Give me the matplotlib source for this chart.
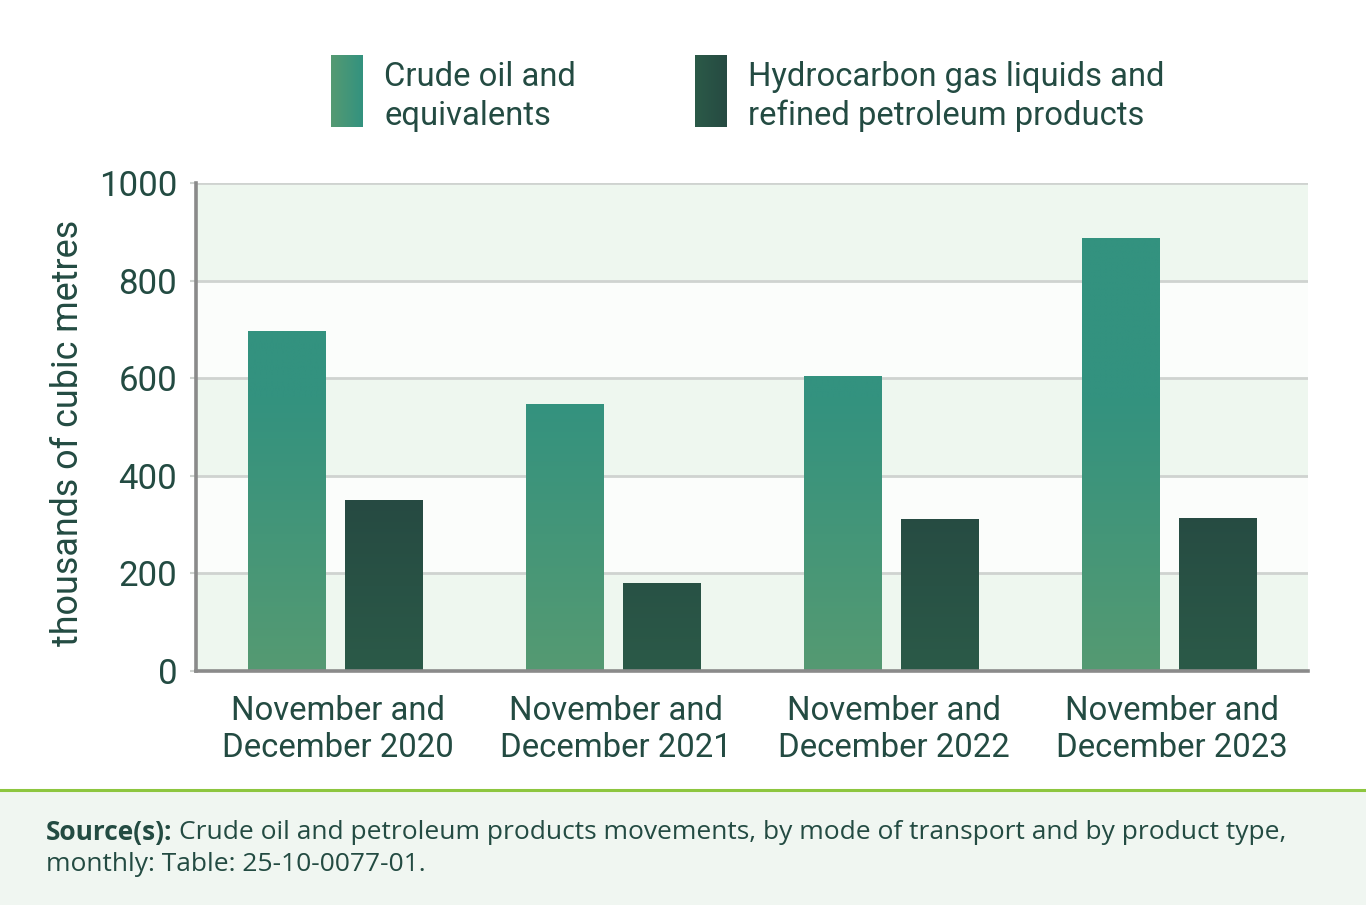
import numpy as np
import matplotlib
matplotlib.use("Agg")
import matplotlib.pyplot as plt
from matplotlib.patches import Rectangle
from matplotlib.colors import to_rgb
from matplotlib.transforms import ScaledTranslation

categories = ["November and\nDecember 2020", "November and\nDecember 2021",
              "November and\nDecember 2022", "November and\nDecember 2023"]
crude = [697, 547, 604, 887]
hgl = [350, 180, 311, 313]
series_names = ["Crude oil and\nequivalents", "Hydrocarbon gas liquids and\nrefined petroleum products"]
yticks = [0, 200, 400, 600, 800, 1000]

W, H = 1366, 905
fig = plt.figure(figsize=(W / 100, H / 100), dpi=100)
fig.patch.set_facecolor("white")

TXT = "#234b42"
FONT = "Roboto"

# footer
fig.patches.append(Rectangle((0, 0), 1, (H - 790) / H, transform=fig.transFigure,
                             facecolor="#f0f6f1", edgecolor="none", zorder=0))
fig.lines.append(plt.Line2D([0, 1], [(H - 790) / H] * 2, transform=fig.transFigure,
                            color="#8dc63f", lw=2.2, zorder=1))

ax = fig.add_axes([196 / W, (H - 671) / H, (1308 - 196) / W, (671 - 183) / H])
ax.set_facecolor("none")
ax.set_xlim(-0.5, len(categories) - 0.5)
ax.set_ylim(0, 1000)

# bands
for i in range(len(yticks) - 1):
    c = "#eef7ef" if i % 2 == 0 else "#fbfdfb"
    ax.axhspan(yticks[i], yticks[i + 1], facecolor=c, edgecolor="none", zorder=0)
for t in yticks[1:]:
    ax.axhline(t, color="#cfd3d0", lw=2, zorder=1)

x = np.arange(len(categories))
bw = 0.277
off = 0.174

def grad_bars(xpos, vals, c_bot, c_top, vmax):
    bars = ax.bar(xpos, vals, width=bw, facecolor="none", edgecolor="none", zorder=3)
    cb, ct = np.array(to_rgb(c_bot)), np.array(to_rgb(c_top))
    for b, v in zip(bars, vals):
        ys = np.linspace(0, v, 256)
        t = np.clip(ys / vmax, 0, 1)[:, None]
        img = cb * (1 - t) + ct * t
        img = img[:, None, :]
        x0 = b.get_x()
        im = ax.imshow(img, extent=(x0, x0 + b.get_width(), 0, v), origin="lower",
                       aspect="auto", interpolation="bilinear", zorder=3)
        im.set_clip_path(b)
    return bars

grad_bars(x - off, crude, "#559a72", "#33927f", 560)
grad_bars(x + off, hgl, "#2b5a48", "#264a42", 350)
ax.set_aspect("auto")
ax.set_xlim(-0.5, len(categories) - 0.5)
ax.set_ylim(0, 1000)

for s in ["top", "right"]:
    ax.spines[s].set_visible(False)
for s in ["left", "bottom"]:
    ax.spines[s].set_color("#8a8a8a")
    ax.spines[s].set_linewidth(2.6)
    ax.spines[s].set_zorder(5)

ax.set_yticks(yticks)
ax.set_yticklabels([str(t) for t in yticks], fontsize=25, color=TXT, family=FONT)
ax.tick_params(axis="y", length=4, width=1.5, color="#cfd3d0", pad=9.5)
ax.set_xticks(x)
ax.set_xticklabels(categories, fontsize=23.7, color=TXT, family=FONT, linespacing=1.23)
ax.tick_params(axis="x", length=0, pad=17)
shift = ScaledTranslation(3 / 100, 0, fig.dpi_scale_trans)
for lab in ax.get_xticklabels():
    lab.set_transform(lab.get_transform() + shift)
ax.set_ylabel("thousands of cubic metres", fontsize=25.8, color=TXT, family=FONT)
ax.yaxis.set_label_coords(-(196 - 86) / (1308 - 196), (671 - 433) / (671 - 183))

# legend
def swatch(x0, c_left, c_right):
    sax = fig.add_axes([x0 / W, (H - 127) / H, 32 / W, 72 / H])
    cl, cr = np.array(to_rgb(c_left)), np.array(to_rgb(c_right))
    t = np.linspace(0, 1, 64)[:, None]
    img = (cl * (1 - t) + cr * t)[None, :, :]
    sax.imshow(img, aspect="auto", extent=(0, 1, 0, 1), interpolation="bilinear")
    sax.axis("off")

swatch(331, "#559a72", "#33927f")
swatch(695, "#2b5a48", "#264a42")
fig.text(384 / W, 1 - 96.5 / H, series_names[0], fontsize=23.6, color=TXT, family=FONT,
         va="center", ha="left", linespacing=1.24)
fig.text(748 / W, 1 - 96.5 / H, series_names[1], fontsize=23.6, color=TXT, family=FONT,
         va="center", ha="left", linespacing=1.24)

# source
FS = 19
src = fig.text(46 / W, 1 - 832 / H, "Source(s):", fontsize=FS, color=TXT, family="Open Sans",
               fontweight="bold", va="center", ha="left")
fig.canvas.draw()
bb = src.get_window_extent()
fig.text((bb.x1 + 6) / W, 1 - 832 / H,
         "Crude oil and petroleum products movements, by mode of transport and by product type,",
         fontsize=FS, color=TXT, family="Open Sans", va="center", ha="left")
fig.text(46 / W, 1 - 864 / H, "monthly: Table: 25-10-0077-01.", fontsize=FS, color=TXT,
         family="Open Sans", va="center", ha="left")

fig.savefig("out.png", dpi=100)
